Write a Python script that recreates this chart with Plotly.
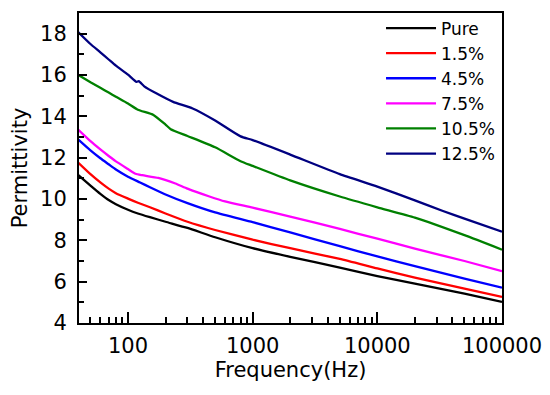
import plotly.graph_objects as go

freq_pure = [40, 50, 60, 70, 80, 100, 120, 150, 200, 300, 500, 1000, 2000, 5000, 10000, 20000, 50000, 100000]
pure = [11.15, 10.65, 10.25, 9.95, 9.75, 9.48, 9.3, 9.12, 8.9, 8.6, 8.15, 7.62, 7.2, 6.68, 6.27, 5.9, 5.42, 5.02]

freq_15 = [40, 50, 60, 70, 80, 100, 120, 150, 200, 300, 500, 1000, 2000, 5000, 10000, 20000, 50000, 100000]
p15 = [11.75, 11.2, 10.8, 10.5, 10.28, 10.02, 9.82, 9.6, 9.3, 8.9, 8.5, 8.03, 7.62, 7.1, 6.64, 6.2, 5.66, 5.26]

freq_45 = [40, 50, 60, 70, 80, 100, 125, 150, 200, 300, 500, 1000, 2000, 5000, 10000, 20000, 50000, 100000]
p45 = [12.87, 12.35, 11.97, 11.68, 11.43, 11.08, 10.8, 10.57, 10.22, 9.8, 9.35, 8.88, 8.38, 7.72, 7.22, 6.75, 6.15, 5.71]

freq_75 = [40, 50, 60, 70, 80, 100, 115, 130, 175, 240, 300, 450, 600, 1000, 2000, 5000, 10000, 20000, 50000, 100000]
p75 = [13.35, 12.8, 12.4, 12.08, 11.82, 11.45, 11.22, 11.15, 11.02, 10.75, 10.5, 10.12, 9.88, 9.58, 9.15, 8.55, 8.08, 7.6, 7.0, 6.51]

freq_105 = [40, 50, 60, 70, 80, 100, 120, 160, 200, 220, 300, 500, 800, 1000, 2000, 5000, 10000, 20000, 50000, 100000]
p105 = [16.0, 15.65, 15.38, 15.15, 14.95, 14.62, 14.32, 14.07, 13.6, 13.38, 13.05, 12.5, 11.83, 11.6, 10.9, 10.12, 9.6, 9.1, 8.25, 7.55]

freq_125 = [40, 50, 60, 70, 80, 100, 117, 122, 135, 170, 230, 330, 500, 800, 1000, 2000, 5000, 10000, 20000, 33600, 50000, 100000]
p125 = [18.07, 17.5, 17.1, 16.75, 16.45, 16.02, 15.67, 15.7, 15.45, 15.1, 14.7, 14.38, 13.8, 13.03, 12.85, 12.15, 11.2, 10.6, 9.93, 9.42, 9.05, 8.42]

series = [
    ("Pure", freq_pure, pure, "#000000"),
    ("1.5%", freq_15, p15, "#FF0000"),
    ("4.5%", freq_45, p45, "#0000FF"),
    ("7.5%", freq_75, p75, "#FF00FF"),
    ("10.5%", freq_105, p105, "#008000"),
    ("12.5%", freq_125, p125, "#000080"),
]

x_major = [100, 1000, 10000, 100000]
x_major_text = ["100", "1000", "10000", "100000"]
x_minor = [50, 60, 70, 80, 90] + [m * 10 ** e for e in (2, 3, 4) for m in range(2, 10)]
y_major = [4, 6, 8, 10, 12, 14, 16, 18]
y_minor = [5, 7, 9, 11, 13, 15, 17]

fig = go.Figure()
for name, fx, fy, col in series:
    fig.add_trace(go.Scatter(x=fx, y=fy, mode="lines", name=name,
                             line=dict(color=col, width=2.3, shape="spline", smoothing=0.5)))

font = "DejaVu Sans, sans-serif"
fig.update_layout(
    width=550, height=395,
    margin=dict(l=71, r=56, t=3, b=80),
    paper_bgcolor="white", plot_bgcolor="white",
    font=dict(family=font, size=21, color="black"),
    showlegend=True,
    legend=dict(x=0.714, y=1.008, xanchor="left", yanchor="top",
                bgcolor="rgba(0,0,0,0)", font=dict(size=17),
                tracegroupgap=0, itemwidth=50),
    xaxis=dict(type="log", range=[1.607, 5.0], showgrid=False, zeroline=False, automargin=False,
               showline=True, linecolor="black", linewidth=2, mirror=True,
               ticks="inside", ticklen=11, tickwidth=1.5, tickcolor="black",
               tickvals=x_major, ticktext=x_major_text, ticklabelstandoff=3,
               minor=dict(tickvals=x_minor, ticks="inside", ticklen=6, tickwidth=1.5, tickcolor="black"),
               title=dict(text="Frequency(Hz)", font=dict(size=21), standoff=0),
               tickfont=dict(size=21)),
    yaxis=dict(range=[4, 19], showgrid=False, zeroline=False, automargin=False,
               showline=True, linecolor="black", linewidth=2, mirror=True,
               ticks="inside", ticklen=8, tickwidth=1.5, tickcolor="black",
               tickvals=y_major, ticklabelstandoff=6,
               minor=dict(tickvals=y_minor, ticks="inside", ticklen=5, tickwidth=1.5, tickcolor="black"),
               title=dict(text="Permittivity", font=dict(size=21), standoff=8),
               tickfont=dict(size=21)),
)

fig.write_html("out.html")
